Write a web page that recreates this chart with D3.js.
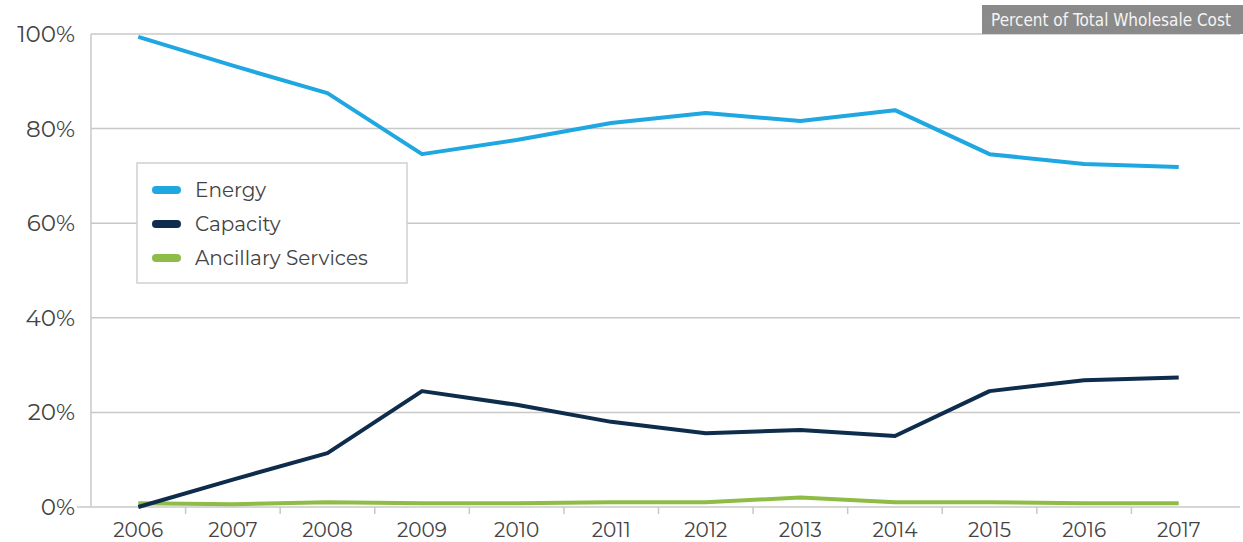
<!DOCTYPE html>
<html>
<head>
<meta charset="utf-8">
<script src="https://cdn.jsdelivr.net/npm/d3@7"></script>
<style>
  body { margin: 0; background: #fff; }
  #chart text { font-family: "Montserrat", "Lato", "Noto Sans", sans-serif; }
</style>
</head>
<body>
<div id="chart"></div>
<script>
const years = ["2006", "2007", "2008", "2009", "2010", "2011", "2012", "2013", "2014", "2015", "2016", "2017"];
const energy = [99.4, 93.3, 87.5, 74.6, 77.6, 81.2, 83.3, 81.6, 83.9, 74.6, 72.5, 71.9];
const capacity = [0, 5.8, 11.4, 24.5, 21.6, 18.0, 15.6, 16.3, 15.0, 24.5, 26.8, 27.4];
const ancillary = [0.8, 0.6, 1.0, 0.8, 0.8, 1.0, 1.0, 2.0, 1.0, 1.0, 0.8, 0.8];
const yTicks = [0, 20, 40, 60, 80, 100];
const seriesNames = ["Energy", "Capacity", "Ancillary Services"];
const seriesColors = ["#1ea7e1", "#0e2c4c", "#8fbc46"];
const headerLabel = "Percent of Total Wholesale Cost";

const W = 1243, H = 542;
const margin = { top: 34, right: 17, bottom: 35, left: 91 };
const width = 1226 - margin.left,
      height = 507 - margin.top;

const svg = d3.select("#chart")
  .append("svg")
  .attr("width", W)
  .attr("height", H);

const g = svg.append("g")
  .attr("transform", `translate(${margin.left},${margin.top})`);

const x = d3.scaleBand()
  .domain(years)
  .range([0, width]);

const y = d3.scaleLinear()
  .domain([0, 100])
  .range([height, 0]);

// gridlines
g.selectAll(".grid")
  .data(yTicks.filter(d => d > 0))
  .join("line")
  .attr("class", "grid")
  .attr("x1", 0)
  .attr("x2", 1240 - margin.left)
  .attr("y1", d => y(d))
  .attr("y2", d => y(d))
  .attr("stroke", "#c8c8c8")
  .attr("stroke-width", 1.5);

// y axis line + labels
g.append("line")
  .attr("x1", 0).attr("x2", 0)
  .attr("y1", 0).attr("y2", height)
  .attr("stroke", "#c8c8c8")
  .attr("stroke-width", 1.5);

g.selectAll(".ylab")
  .data(yTicks)
  .join("text")
  .attr("class", "ylab")
  .attr("x", -16)
  .attr("y", d => y(d))
  .attr("dy", "0.35em")
  .attr("text-anchor", "end")
  .style("font-size", "23px")
  .style("fill", "#444")
  .text(d => d + "%");

// x axis
const xAxis = g.append("g")
  .attr("transform", `translate(0,${height})`);

xAxis.append("line")
  .attr("x1", -14).attr("x2", 1240 - margin.left)
  .attr("stroke", "#c8c8c8")
  .attr("stroke-width", 1.5);

xAxis.selectAll(".xtick")
  .data(years.slice(1))
  .join("line")
  .attr("class", "xtick")
  .attr("x1", d => x(d))
  .attr("x2", d => x(d))
  .attr("y1", 0).attr("y2", 7)
  .attr("stroke", "#c8c8c8")
  .attr("stroke-width", 1.5);

xAxis.selectAll(".xlab")
  .data(years)
  .join("text")
  .attr("class", "xlab")
  .attr("x", d => x(d) + x.bandwidth() / 2)
  .attr("y", 30)
  .attr("text-anchor", "middle")
  .style("font-size", "20px")
  .style("fill", "#444")
  .text(d => d);

// lines
const series = [energy, capacity, ancillary];
const line = d3.line()
  .x((d, i) => x(years[i]) + x.bandwidth() / 2)
  .y(d => y(d));

// ancillary drawn first, capacity over it at 2006
g.selectAll(".series")
  .data([2, 1, 0])
  .join("path")
  .attr("class", "series")
  .attr("d", i => line(series[i]))
  .attr("fill", "none")
  .attr("stroke", i => seriesColors[i])
  .attr("stroke-width", 4)
  .attr("stroke-linejoin", "round");

// legend
const legend = svg.append("g")
  .attr("transform", "translate(137,163)");

legend.append("rect")
  .attr("width", 270)
  .attr("height", 120)
  .attr("fill", "#fff")
  .attr("stroke", "#d0d0d0")
  .attr("stroke-width", 1.5);

const item = legend.selectAll(".item")
  .data(seriesNames)
  .join("g")
  .attr("class", "item")
  .attr("transform", (d, i) => `translate(0,${27 + i * 34})`);

item.append("line")
  .attr("x1", 19).attr("x2", 40)
  .attr("stroke", (d, i) => seriesColors[i])
  .attr("stroke-width", 8)
  .attr("stroke-linecap", "round");

item.append("text")
  .attr("x", 58)
  .attr("dy", "0.35em")
  .style("font-size", "20px")
  .style("fill", "#444")
  .text(d => d);

// header box
svg.append("rect")
  .attr("x", 982).attr("y", 5)
  .attr("width", 261).attr("height", 29)
  .attr("fill", "#8a8a8a");

svg.append("text")
  .attr("x", 1111).attr("y", 20)
  .attr("dy", "0.35em")
  .attr("text-anchor", "middle")
  .style("font-family", "'DejaVu Sans Condensed', 'Liberation Sans', sans-serif")
  .style("font-size", "17px")
  .style("fill", "#f4f4f4")
  .text(headerLabel);
</script>
</body>
</html>
